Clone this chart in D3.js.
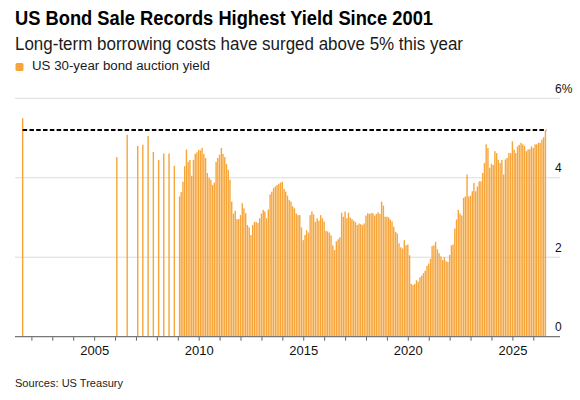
<!DOCTYPE html>
<html>
<head>
<meta charset="utf-8">
<script src="https://cdn.jsdelivr.net/npm/d3@7.9.0/dist/d3.min.js"></script>
<style>
  body { margin: 0; background: #fff; }
  svg { display: block; font-family: "Liberation Sans", Arial, sans-serif; }
</style>
</head>
<body>
<svg id="chart" width="580" height="400"></svg>
<script>
// Auctions before the monthly schedule (Aug 2001, then 2006-2008 quarterly/semiannual)
const earlyDates = ["2001-08", "2006-02", "2006-08", "2007-02", "2007-05", "2007-08",
  "2007-11", "2008-02", "2008-05", "2008-08", "2008-11"];
const earlyYields = [5.50, 4.52, 5.08, 4.80, 4.83, 5.05, 4.65, 4.45, 4.61, 4.61, 4.30];

// Monthly auctions, starting Feb 2009
const monthlyStart = "2009-02";
const yields2009 = [3.53, 3.64, 3.90, 4.29, 4.71, 4.40, 4.45, 4.05, 4.45, 4.60, 4.64];
const yields2010 = [4.70, 4.69, 4.75, 4.60, 4.50, 4.12, 4.00, 3.95, 3.82, 3.88, 4.40, 4.50];
const yields2011 = [4.58, 4.75, 4.60, 4.52, 4.35, 4.20, 3.95, 3.40, 3.10, 3.17, 2.96, 2.96];
const yields2012 = [3.06, 3.36, 3.23, 3.11, 2.81, 2.75, 2.56, 2.81, 2.89, 2.89, 2.86, 2.98];
const yields2013 = [3.10, 3.19, 3.15, 2.98, 3.20, 3.58, 3.65, 3.74, 3.78, 3.82, 3.85, 3.88];
const yields2014 = [3.90, 3.72, 3.65, 3.55, 3.44, 3.40, 3.28, 3.23, 3.10, 3.06, 3.06, 2.75];
const yields2015 = [2.43, 2.56, 2.68, 2.62, 3.06, 3.15, 3.08, 2.89, 2.98, 2.92, 3.06, 2.98];
const yields2016 = [2.90, 2.66, 2.65, 2.62, 2.55, 2.30, 2.18, 2.40, 2.45, 2.50, 3.12, 3.02];
const yields2017 = [3.15, 2.98, 3.12, 3.00, 2.96, 2.92, 2.88, 2.81, 2.85, 2.83, 2.81, 2.85];
const yields2018 = [3.05, 3.11, 3.09, 3.11, 3.11, 3.05, 3.09, 3.13, 3.09, 3.40, 3.30, 3.02];
const yields2019 = [3.02, 3.00, 2.95, 2.90, 2.77, 2.64, 2.60, 2.35, 2.25, 2.22, 2.43, 2.30];
const yields2020 = [2.32, 2.05, 1.33, 1.30, 1.33, 1.42, 1.38, 1.50, 1.54, 1.60, 1.66, 1.78];
const yields2021 = [1.84, 1.96, 2.28, 2.30, 2.39, 2.20, 2.10, 2.02, 1.93, 2.00, 1.90, 1.88];
const yields2022 = [2.06, 2.30, 2.32, 2.72, 2.95, 3.19, 3.10, 3.05, 3.49, 3.53, 4.08, 3.53];
const yields2023 = [3.55, 3.66, 3.87, 3.66, 3.78, 3.91, 3.91, 4.12, 4.37, 4.84, 4.75, 4.25];
const yields2024 = [4.35, 4.32, 4.67, 4.62, 4.45, 4.37, 4.45, 4.08, 4.46, 4.50, 4.62, 4.62];
const yields2025 = [4.92, 4.71, 4.62, 4.79, 4.83, 4.88, 4.84, 4.80, 4.67, 4.71, 4.72, 4.79];
const yields2026 = [4.75, 4.84, 4.84, 4.88, 4.88, 4.96, 5.02, 5.20];

const yTicks = [0, 2, 4, 6];
const labelYears = [2005, 2010, 2015, 2020, 2025];

const parseMonth = d3.timeParse("%Y-%m");
const orange = "#f7a53a";

// build one list of auctions
let data = earlyDates.map((d, i) => ({ date: parseMonth(d), value: earlyYields[i] }));
const monthly = [].concat(yields2009, yields2010, yields2011, yields2012, yields2013,
  yields2014, yields2015, yields2016, yields2017, yields2018, yields2019, yields2020,
  yields2021, yields2022, yields2023, yields2024, yields2025, yields2026);
const start = parseMonth(monthlyStart);
monthly.forEach((v, i) => {
  data.push({ date: d3.timeMonth.offset(start, i), value: v });
});
const last = data[data.length - 1];

const svg = d3.select("#chart");

// scales
const x = d3.scaleTime()
  .domain([new Date(2001, 0, 1), new Date(2026, 0, 1)])
  .range([10.5, 533.3]);
const y = d3.scaleLinear().domain([0, 6]).range([336.7, 98.3]);
const left = 15, right = 560;

// headers
svg.append("text")
  .attr("x", 15).attr("y", 25)
  .attr("font-size", 19.5).attr("font-weight", "bold").attr("fill", "#000")
  .attr("textLength", 418).attr("lengthAdjust", "spacingAndGlyphs")
  .text("US Bond Sale Records Highest Yield Since 2001");

svg.append("text")
  .attr("x", 15).attr("y", 49.5)
  .attr("font-size", 17.5).attr("fill", "#1a1a1a")
  .attr("textLength", 448).attr("lengthAdjust", "spacingAndGlyphs")
  .text("Long-term borrowing costs have surged above 5% this year");

// legend
svg.append("rect")
  .attr("x", 15.5).attr("y", 63).attr("width", 8).attr("height", 8)
  .attr("rx", 1.5).attr("fill", orange);
svg.append("text")
  .attr("x", 32).attr("y", 70)
  .attr("font-size", 12).attr("fill", "#1a1a1a")
  .attr("textLength", 178).attr("lengthAdjust", "spacingAndGlyphs")
  .text("US 30-year bond auction yield");

// gridlines
svg.append("g")
  .selectAll("line")
  .data(yTicks.filter(t => t > 0))
  .join("line")
  .attr("x1", left).attr("x2", right)
  .attr("y1", d => y(d)).attr("y2", d => y(d))
  .attr("stroke", "#dcdcdc").attr("stroke-width", 1);

// bars
const bw = 1.4;
svg.append("g")
  .selectAll("rect")
  .data(data)
  .join("rect")
  .attr("x", d => x(d.date) - bw / 2)
  .attr("width", bw)
  .attr("y", d => y(d.value))
  .attr("height", d => y(0) - y(d.value))
  .attr("fill", orange);

// dashed line at the latest auction level
svg.append("line")
  .attr("x1", x(data[0].date)).attr("x2", x(last.date) + 1)
  .attr("y1", y(last.value)).attr("y2", y(last.value))
  .attr("stroke", "#000").attr("stroke-width", 2)
  .attr("stroke-dasharray", "4.5,2.3");

// x axis
const xAxis = d3.axisBottom(x)
  .tickValues(d3.timeYear.range(new Date(2002, 0, 1), new Date(2026, 6, 1)))
  .tickSize(4)
  .tickPadding(5)
  .tickFormat(d => labelYears.includes(d.getFullYear()) ? d.getFullYear() : "");

const gx = svg.append("g")
  .attr("transform", `translate(0,${y(0)})`)
  .call(xAxis);
gx.select(".domain").remove();
gx.selectAll(".tick line").attr("stroke", "#666");
gx.selectAll(".tick text")
  .attr("font-size", 13).attr("fill", "#111")
  .attr("font-family", "'Liberation Sans', Arial, sans-serif");
gx.append("line")
  .attr("x1", left).attr("x2", right)
  .attr("stroke", "#777").attr("stroke-width", 1.2);

// y labels on the right
svg.append("g")
  .selectAll("text")
  .data(yTicks)
  .join("text")
  .attr("x", 555)
  .attr("y", d => y(d) - 5.5)
  .attr("font-size", 12).attr("fill", "#111")
  .text(d => d === 6 ? d + "%" : d);

// source
svg.append("text")
  .attr("x", 15).attr("y", 387)
  .attr("font-size", 10.5).attr("fill", "#222")
  .attr("textLength", 108).attr("lengthAdjust", "spacingAndGlyphs")
  .text("Sources: US Treasury");
</script>
</body>
</html>
